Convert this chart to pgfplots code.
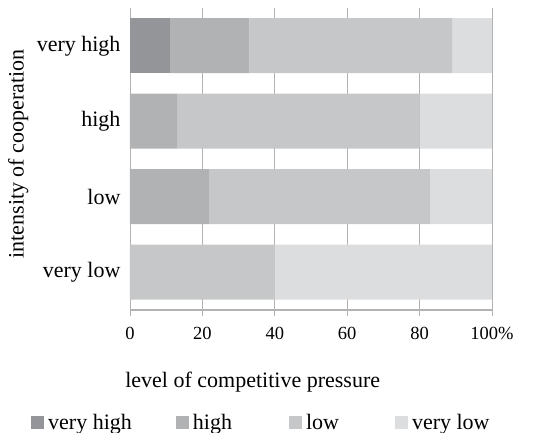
\documentclass[border=0pt]{standalone}
\usepackage{fontspec}
\setmainfont{Liberation Serif}
\usepackage{pgfplots}
\pgfplotsset{compat=1.18}

\definecolor{cvh}{RGB}{147,149,152}
\definecolor{ch}{RGB}{177,178,180}
\definecolor{cl}{RGB}{198,199,200}
\definecolor{cvl}{RGB}{220,221,222}
\definecolor{gridc}{RGB}{178,178,178}

\begin{document}
\begin{tikzpicture}
\useasboundingbox (-130pt,-123pt) rectangle (412pt,310pt);
\begin{axis}[
  at={(0,0)}, anchor=south west,
  scale only axis, width=362pt, height=302pt,
  xbar stacked, bar width=55pt,
  xmin=0, xmax=100, ymin=-0.5, ymax=3.5,
  axis x line*=bottom, axis y line*=left,
  x axis line style={draw=gridc, line width=1.4pt},
  y axis line style={draw=gridc, line width=0.8pt},
  xtick={0,20,...,100}, xticklabels={0,20,40,60,80,100\%},
  ytick={0,1,2,3}, yticklabels={very low,low,high,very high},
  xmajorgrids, grid style={draw=gridc, line width=0.8pt},
  xtick align=outside, major tick length=6pt,
  xtick style={draw=gridc, line width=0.8pt},
  ytick style={draw=none},
  /pgf/number format/assume math mode=true,
  xticklabel style={font=\fontsize{18.5}{22}\selectfont, yshift=-8pt},
  yticklabel style={font=\fontsize{22}{26}\selectfont, xshift=-6pt},
  xlabel={level of competitive pressure},
  ylabel={intensity of cooperation},
  label style={font=\fontsize{22}{26}\selectfont},
  xlabel style={at={(axis description cs:0.339,-0.238)}, anchor=center},
  ylabel style={at={(axis description cs:-0.309,0.517)}, anchor=center},
  legend columns=4,
  legend style={at={(axis description cs:-0.2735,-0.372)}, anchor=west,
    draw=none, fill=none, inner sep=0pt,
    font=\fontsize{22}{26}\selectfont,
    /tikz/every odd column/.append style={column sep=2pt},
    /tikz/column 2/.style={column sep=42pt},
    /tikz/column 4/.style={column sep=55pt},
    /tikz/column 6/.style={column sep=54pt}},
  legend image code/.code={\fill[#1] (0pt,-6.5pt) rectangle (13pt,6.5pt);},
  every axis plot/.append style={draw=none},
]
\addplot[fill=cvh] coordinates {(0,0) (0,1) (0,2) (11,3)};
\addlegendentry{very high}
\addplot[fill=ch] coordinates {(0,0) (22,1) (13,2) (22,3)};
\addlegendentry{high}
\addplot[fill=cl] coordinates {(40,0) (61,1) (67,2) (56,3)};
\addlegendentry{low}
\addplot[fill=cvl] coordinates {(60,0) (17,1) (20,2) (11,3)};
\addlegendentry{very low}
\end{axis}
\end{tikzpicture}
\end{document}
